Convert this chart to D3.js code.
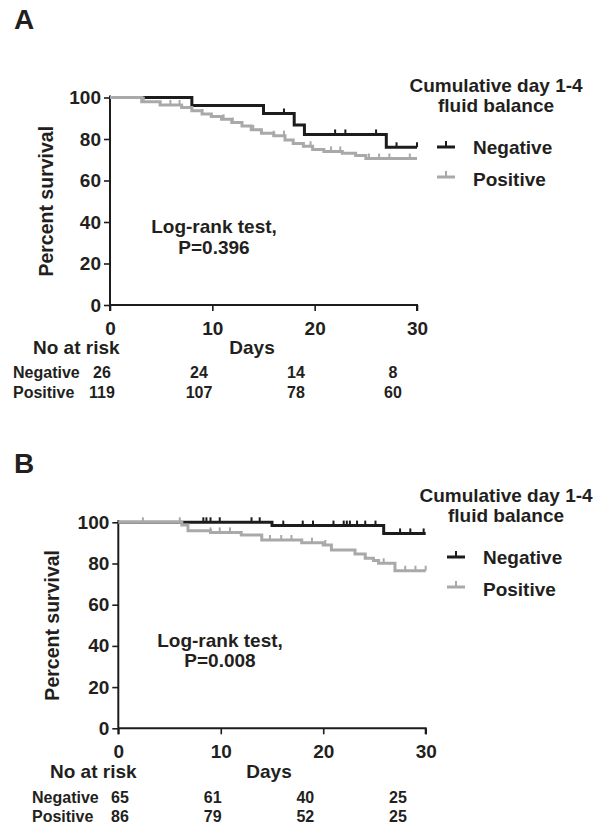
<!DOCTYPE html>
<html>
<head>
<meta charset="utf-8">
<script src="https://cdn.jsdelivr.net/npm/d3@7"></script>
<style>
body { margin: 0; background: #fff; }
text { font-family: "Liberation Sans", Arial, sans-serif; font-weight: bold; fill: #231f20; }
</style>
</head>
<body>
<svg width="595" height="828"></svg>
<script>
// panel A: survival steps (day, percent)
var aNegDays = [0, 8, 15, 18, 19, 27];
var aNegPct = [100, 96.2, 92.3, 86.8, 82.2, 76.0];
var aNegCensor = [17, 22, 23, 26, 28, 30];
var aPosDays = [0, 3.1, 4.9, 7.0, 8.0, 9.0, 9.9, 10.9, 11.9, 12.9, 13.8, 14.8, 16.0, 17.1, 17.9, 18.9, 19.8, 20.9, 22.7, 24.0, 25.0];
var aPosPct = [100, 98.0, 96.4, 95.2, 93.6, 92.0, 90.8, 89.5, 87.9, 86.3, 84.4, 82.8, 81.6, 79.5, 77.8, 76.5, 75.0, 74.0, 73.1, 72.0, 70.6];
var aPosCensor = [3.3, 5.9, 6.8, 9.0, 11.1, 12.0, 14.0, 16.0, 17.0, 19.6, 21.6, 22.5, 25.3, 26.3, 27.3, 29.3];
var aRiskNeg = [26, 24, 14, 8];
var aRiskPos = [119, 107, 78, 60];
var aPval = "P=0.396";

// panel B
var bNegDays = [0, 15.0, 25.9];
var bNegPct = [100, 98.4, 94.6];
var bNegCensor = [8.3, 8.6, 9.0, 9.9, 13.0, 13.8, 16.1, 18.0, 19.0, 21.0, 22.0, 22.3, 22.6, 23.3, 24.1, 25.1, 27.5, 28.5, 29.8];
var bPosDays = [0, 6.2, 6.8, 9.0, 12.0, 14.0, 17.9, 20.0, 20.8, 23.1, 24.1, 24.9, 25.4, 27.0];
var bPosPct = [100, 98.7, 95.9, 95.1, 93.8, 91.4, 90.1, 89.0, 86.6, 84.6, 82.5, 81.4, 80.1, 76.5];
var bPosCensor = [2.4, 6.0, 9.0, 9.9, 10.9, 14.8, 15.9, 16.9, 18.9, 20.2, 25.9, 28.0, 29.0, 30.0];
var bRiskNeg = [65, 61, 40, 25];
var bRiskPos = [86, 79, 52, 25];
var bPval = "P=0.008";

var riskDays = [0, 10, 20, 30];
var xTicks = [0, 10, 20, 30];
var yTicks = [0, 20, 40, 60, 80, 100];
var groups = ["Negative", "Positive"];
var legendTitle = ["Cumulative day 1-4", "fluid balance"];

var black = "#1c1c1c";
var grey = "#a9a9a9";

var svg = d3.select("svg");

function pairs(days, pct) {
  var p = days.map(function(d, i) { return [d, pct[i]]; });
  p.push([30, pct[pct.length - 1]]);
  return p;
}

// value of a step curve at a given day
function stepAt(days, pct, t) {
  var v = pct[0];
  for (var i = 0; i < days.length; i++) {
    if (days[i] <= t) v = pct[i];
  }
  return v;
}

function drawPanel(p) {
  var g = svg.append("g");
  var x = d3.scaleLinear().domain([0, 30]).range([p.x0, p.x1]);
  var y = d3.scaleLinear().domain([0, 100]).range([p.yBot, p.yTop]);

  g.append("text").attr("x", 14).attr("y", p.letterY)
    .style("font-size", "28px").text(p.letter);

  // axes
  var xAxis = d3.axisBottom(x).tickValues(xTicks).tickSize(6).tickPadding(6);
  var yAxis = d3.axisLeft(y).tickValues(yTicks).tickSize(6).tickPadding(3);
  var gx = g.append("g").attr("transform", "translate(0," + p.yBot + ")").call(xAxis);
  var gy = g.append("g").attr("transform", "translate(" + p.x0 + ",0)").call(yAxis);
  [gx, gy].forEach(function(a) {
    a.select(".domain").attr("stroke", black).attr("stroke-width", 2);
    a.selectAll(".tick line").attr("stroke", black).attr("stroke-width", 1.6);
    a.selectAll(".tick text").style("font-size", "19px").attr("fill", "#231f20")
      .style("font-family", "'Liberation Sans', Arial, sans-serif").style("font-weight", "bold");
  });
  gx.select(".domain").attr("d", "M" + (p.x0) + ",0H" + p.x1 + "V6");
  gy.select(".domain").attr("d", "M0," + (p.yTop - 2) + "V" + (p.yBot + 6));
  gx.selectAll(".tick text").attr("dy", "0.95em");

  g.append("text")
    .attr("transform", "translate(" + p.ylabX + "," + ((p.yTop + p.yBot) / 2) + ") rotate(-90)")
    .attr("text-anchor", "middle").style("font-size", "19.5px").text("Percent survival");

  // curves: negative first, positive on top
  var line = d3.line().x(function(d) { return x(d[0]); }).y(function(d) { return y(d[1]); })
    .curve(d3.curveStepAfter);
  var series = [
    {days: p.negDays, pct: p.negPct, censor: p.negCensor, color: black},
    {days: p.posDays, pct: p.posPct, censor: p.posCensor, color: grey}
  ];
  series.forEach(function(s) {
    g.append("path").datum(pairs(s.days, s.pct))
      .attr("d", line).attr("fill", "none")
      .attr("stroke", s.color).attr("stroke-width", 3);
    g.selectAll(null).data(s.censor).enter().append("line")
      .attr("x1", function(d) { return x(d); }).attr("x2", function(d) { return x(d); })
      .attr("y1", function(d) { return y(stepAt(s.days, s.pct, d)); })
      .attr("y2", function(d) { return y(stepAt(s.days, s.pct, d)) - 5; })
      .attr("stroke", s.color).attr("stroke-width", 2);
  });

  // log-rank note
  g.append("text").attr("x", p.noteX).attr("y", p.noteY).attr("text-anchor", "middle")
    .style("font-size", "19px").text("Log-rank test,");
  g.append("text").attr("x", p.noteX).attr("y", p.noteY + p.noteGap).attr("text-anchor", "middle")
    .style("font-size", "19px").text(p.pval);

  // legend
  var lg = g.append("g").attr("transform", "translate(" + p.legX + "," + p.legY + ")");
  legendTitle.forEach(function(t, i) {
    lg.append("text").attr("x", 59).attr("y", -55 + i * 20).attr("text-anchor", "middle")
      .style("font-size", "19px").text(t);
  });
  groups.forEach(function(name, i) {
    var c = i === 0 ? black : grey;
    var yy = i * 30;
    lg.append("line").attr("x1", 0).attr("x2", 18).attr("y1", yy).attr("y2", yy)
      .attr("stroke", c).attr("stroke-width", 3);
    lg.append("line").attr("x1", 9).attr("x2", 9).attr("y1", yy).attr("y2", yy - 6)
      .attr("stroke", c).attr("stroke-width", 2);
    lg.append("text").attr("x", 36).attr("y", yy + 7 + i * 2).style("font-size", "19px").text(name);
  });

  // numbers at risk
  g.append("text").attr("x", p.daysX).attr("y", p.daysY).attr("text-anchor", "middle")
    .style("font-size", "19px").text("Days");
  g.append("text").attr("x", p.riskLabX).attr("y", p.daysY)
    .style("font-size", "19px").text("No at risk");
  var rx = d3.scaleLinear().domain([0, 30]).range(p.riskRange);
  [p.riskNeg, p.riskPos].forEach(function(row, i) {
    var yy = p.riskY + i * p.riskGap;
    g.append("text").attr("x", p.rowLabX).attr("y", yy).style("font-size", "16px").text(groups[i]);
    g.selectAll(null).data(row).enter().append("text")
      .attr("x", function(d, j) { return rx(riskDays[j]); })
      .attr("y", yy).attr("text-anchor", "middle")
      .style("font-size", "16px").text(function(d) { return d; });
  });
}

drawPanel({
  letter: "A", letterY: 29,
  x0: 110, x1: 417, yTop: 97.5, yBot: 305, ylabX: 53,
  negDays: aNegDays, negPct: aNegPct, negCensor: aNegCensor,
  posDays: aPosDays, posPct: aPosPct, posCensor: aPosCensor,
  pval: aPval, noteX: 214, noteY: 233, noteGap: 21,
  legX: 437, legY: 147,
  daysX: 252, daysY: 354, riskLabX: 33,
  riskNeg: aRiskNeg, riskPos: aRiskPos, rowLabX: 13, riskY: 378, riskGap: 20, riskRange: [102, 393]
});

drawPanel({
  letter: "B", letterY: 473,
  x0: 118.3, x1: 425.7, yTop: 522.3, yBot: 728.3, ylabX: 59,
  negDays: bNegDays, negPct: bNegPct, negCensor: bNegCensor,
  posDays: bPosDays, posPct: bPosPct, posCensor: bPosCensor,
  pval: bPval, noteX: 220, noteY: 647, noteGap: 20,
  legX: 447, legY: 557,
  daysX: 269, daysY: 778, riskLabX: 50,
  riskNeg: bRiskNeg, riskPos: bRiskPos, rowLabX: 32, riskY: 803, riskGap: 19, riskRange: [120, 398]
});
</script>
</body>
</html>
